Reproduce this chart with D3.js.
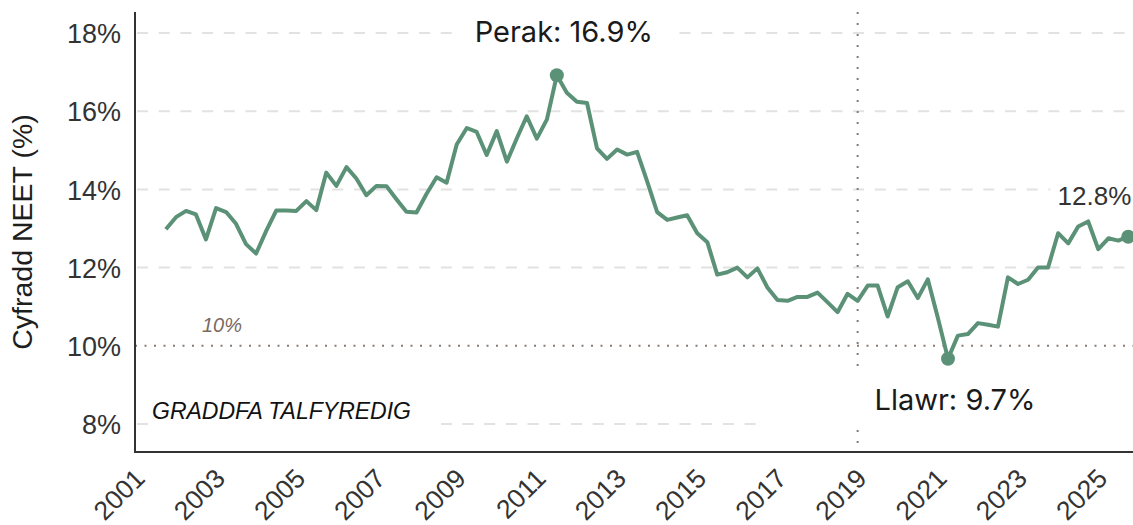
<!DOCTYPE html>
<html>
<head>
<meta charset="utf-8">
<script src="https://cdn.jsdelivr.net/npm/d3@7"></script>
<style>
  html, body { margin: 0; padding: 0; background: #fff; }
  svg { display: block; }
  .tick text { font-family: "Liberation Sans", Arial, sans-serif; fill: #333; }
</style>
</head>
<body>
<div id="chart"></div>
<script>
// NEET rate, quarterly (quarter start month)
const quarters = [
  '2001-07','2001-10',
  '2002-01','2002-04','2002-07','2002-10','2003-01','2003-04','2003-07','2003-10',
  '2004-01','2004-04','2004-07','2004-10','2005-01','2005-04','2005-07','2005-10',
  '2006-01','2006-04','2006-07','2006-10','2007-01','2007-04','2007-07','2007-10',
  '2008-01','2008-04','2008-07','2008-10','2009-01','2009-04','2009-07','2009-10',
  '2010-01','2010-04','2010-07','2010-10','2011-01','2011-04','2011-07','2011-10',
  '2012-01','2012-04','2012-07','2012-10','2013-01','2013-04','2013-07','2013-10',
  '2014-01','2014-04','2014-07','2014-10','2015-01','2015-04','2015-07','2015-10',
  '2016-01','2016-04','2016-07','2016-10','2017-01','2017-04','2017-07','2017-10',
  '2018-01','2018-04','2018-07','2018-10','2019-01','2019-04','2019-07','2019-10',
  '2020-01','2020-04','2020-07','2020-10','2021-01','2021-04','2021-07','2021-10',
  '2022-01','2022-04','2022-07','2022-10','2023-01','2023-04','2023-07','2023-10',
  '2024-01','2024-04','2024-07','2024-10','2025-01','2025-04','2025-07'
];
const neetRate = [
  12.98, 13.29,
  13.45, 13.36, 12.72, 13.52, 13.42, 13.12, 12.60, 12.36,
  12.94, 13.46, 13.46, 13.45, 13.70, 13.47, 14.43, 14.09,
  14.57, 14.28, 13.85, 14.09, 14.08, 13.75, 13.43, 13.41,
  13.89, 14.31, 14.17, 15.15, 15.57, 15.47, 14.88, 15.49,
  14.71, 15.30, 15.87, 15.30, 15.79, 16.92, 16.47, 16.24,
  16.21, 15.05, 14.78, 15.02, 14.89, 14.96, 14.21, 13.42,
  13.22, 13.28, 13.34, 12.88, 12.65, 11.82, 11.88, 12.00,
  11.75, 11.98, 11.49, 11.17, 11.15, 11.25, 11.25, 11.36,
  11.11, 10.86, 11.33, 11.15, 11.54, 11.54, 10.75, 11.50,
  11.65, 11.22, 11.70, 10.71, 9.67, 10.26, 10.30, 10.58,
  10.54, 10.49, 11.75, 11.58, 11.69, 12.00, 12.00, 12.88,
  12.62, 13.05, 13.18, 12.47, 12.75, 12.69, 12.79
];
const yTicks = [8, 10, 12, 14, 16, 18];
const xTickYears = [2001, 2003, 2005, 2007, 2009, 2011, 2013, 2015, 2017, 2019, 2021, 2023, 2025];
const refValue = 10;          // horizontal reference line
const markerQuarter = '2018-10'; // vertical dotted marker

const width = 1133, height = 525;
const axisLeftX = 135, axisBottomY = 452, axisTopY = 12;
const green = '#5b9277';
const refColor = '#8a7b72';

const parse = d3.timeParse('%Y-%m');
const data = quarters.map((q, i) => ({ date: parse(q), value: neetRate[i] }));

const x = d3.scaleTime()
  .domain([new Date(2001, 0, 1), new Date(2025, 0, 1)])
  .range([146, 146 + 24 * 40.1]);
const y = d3.scaleLinear().domain([8, 18]).range([424, 33]);

const svg = d3.select('#chart').append('svg')
  .attr('width', width).attr('height', height);

// gridlines
svg.append('g').selectAll('line')
  .data(yTicks.filter(t => t !== refValue))
  .enter().append('line')
  .attr('x1', axisLeftX + 2).attr('x2', width)
  .attr('y1', d => y(d)).attr('y2', d => y(d))
  .attr('stroke', '#e2e2e2').attr('stroke-width', 2)
  .attr('stroke-dasharray', '11,10.7');

// 10% reference
svg.append('line')
  .attr('x1', axisLeftX).attr('x2', width)
  .attr('y1', y(refValue)).attr('y2', y(refValue))
  .attr('stroke', refColor).attr('stroke-width', 2)
  .attr('stroke-dasharray', '2,7.5');

svg.append('text')
  .attr('x', 202).attr('y', y(refValue) - 14)
  .attr('font-family', '"Liberation Sans", Arial, sans-serif')
  .attr('font-style', 'italic').attr('font-size', 20)
  .attr('fill', '#7a6a62')
  .text(refValue + '%');

// vertical marker
svg.append('line')
  .attr('x1', x(parse(markerQuarter))).attr('x2', x(parse(markerQuarter)))
  .attr('y1', axisTopY).attr('y2', axisBottomY)
  .attr('stroke', refColor).attr('stroke-width', 2)
  .attr('stroke-dasharray', '2,9');

// label boxes (white, sit over grid)
const peak = data.reduce((a, b) => (b.value > a.value ? b : a));
const low = data.reduce((a, b) => (b.value < a.value ? b : a));
const last = data[data.length - 1];

function box(x0, y0, w, h) {
  svg.append('rect').attr('x', x0).attr('y', y0).attr('width', w).attr('height', h).attr('fill', '#fff');
}
box(x(peak.date) - 100, 8, 220, 42);
box(x(low.date) - 190, 375, 400, 55);
box(x(last.date) - 78, 178, 90, 32);
box(149, 392, 292, 40);

// axes
const yAxis = svg.append('g')
  .attr('transform', `translate(${axisLeftX},0)`)
  .call(d3.axisLeft(y).tickValues(yTicks).tickSize(0).tickPadding(14).tickFormat(d => d + '%'));
yAxis.select('.domain').remove();
yAxis.selectAll('text').attr('font-size', 27).attr('dy', '0.36em');

const xAxis = svg.append('g')
  .attr('transform', `translate(0,${axisBottomY})`)
  .call(d3.axisBottom(x)
    .tickValues(xTickYears.map(yr => new Date(yr, 0, 1)))
    .tickSize(0)
    .tickFormat(d3.timeFormat('%Y')));
xAxis.select('.domain').remove();
xAxis.selectAll('text')
  .attr('font-size', 26.5)
  .attr('text-anchor', 'end')
  .attr('dy', 0)
  .attr('y', 0)
  .attr('transform', 'translate(0,28) rotate(-45)');

svg.append('line')
  .attr('x1', axisLeftX).attr('x2', axisLeftX)
  .attr('y1', axisTopY).attr('y2', axisBottomY + 1)
  .attr('stroke', '#333').attr('stroke-width', 2);
svg.append('line')
  .attr('x1', axisLeftX).attr('x2', width)
  .attr('y1', axisBottomY).attr('y2', axisBottomY)
  .attr('stroke', '#333').attr('stroke-width', 2);

// y title
svg.append('text')
  .attr('transform', `translate(32,${(axisTopY + axisBottomY) / 2}) rotate(-90)`)
  .attr('text-anchor', 'middle')
  .attr('font-family', '"Liberation Sans", Arial, sans-serif')
  .attr('font-size', 28.5).attr('fill', '#1e1e1e')
  .text('Cyfradd NEET (%)');

// series line
const line = d3.line().x(d => x(d.date)).y(d => y(d.value));
svg.append('path')
  .datum(data)
  .attr('fill', 'none')
  .attr('stroke', green)
  .attr('stroke-width', 4)
  .attr('stroke-linejoin', 'round')
  .attr('d', line);

svg.selectAll('circle.hl')
  .data([peak, low, last])
  .enter().append('circle')
  .attr('class', 'hl')
  .attr('cx', d => x(d.date)).attr('cy', d => y(d.value))
  .attr('r', 7).attr('fill', green);

// annotations
svg.append('text')
  .attr('x', x(peak.date) + 7).attr('y', y(peak.value) - 33)
  .attr('text-anchor', 'middle')
  .attr('font-family', 'Inter, sans-serif').attr('font-size', 29)
  .attr('fill', '#1a1a1a')
  .text('Perak: ' + peak.value.toFixed(1) + '%');

svg.append('text')
  .attr('x', x(low.date) + 7).attr('y', y(low.value) + 51)
  .attr('text-anchor', 'middle')
  .attr('font-family', 'Inter, sans-serif').attr('font-size', 29)
  .attr('fill', '#1a1a1a')
  .text('Llawr: ' + low.value.toFixed(1) + '%');

svg.append('text')
  .attr('x', x(last.date) + 3).attr('y', y(last.value) - 32)
  .attr('text-anchor', 'end')
  .attr('font-family', '"Liberation Sans", Arial, sans-serif').attr('font-size', 26)
  .attr('fill', '#333')
  .text(last.value.toFixed(1) + '%');

svg.append('text')
  .attr('x', 152).attr('y', 419)
  .attr('font-family', '"Liberation Sans", Arial, sans-serif')
  .attr('font-style', 'italic').attr('font-size', 23)
  .attr('fill', '#111')
  .text('GRADDFA TALFYREDIG');
</script>
</body>
</html>
